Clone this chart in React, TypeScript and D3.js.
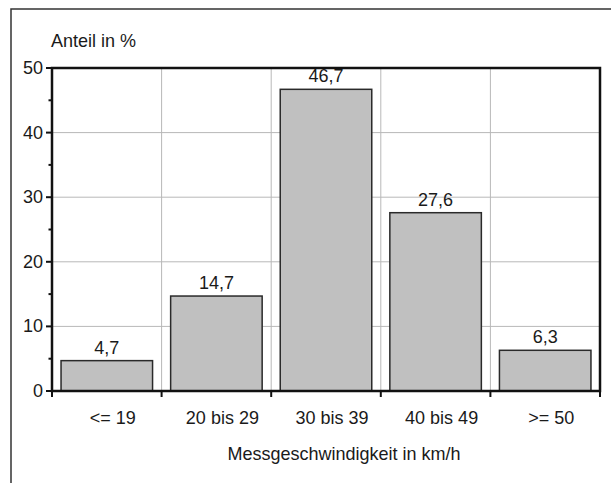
import React from "react";
import * as d3 from "d3";

const categories = ["<= 19", "20 bis 29", "30 bis 39", "40 bis 49", ">= 50"];
const values = [4.7, 14.7, 46.7, 27.6, 6.3];
const valueLabels = ["4,7", "14,7", "46,7", "27,6", "6,3"];
const yTicks = [0, 10, 20, 30, 40, 50];
const yMinorTicks = [5, 15, 25, 35, 45];
const yTitle = "Anteil in %";
const xTitle = "Messgeschwindigkeit in km/h";

const W = 611;
const H = 483;
const plot = { left: 52, right: 600, top: 68, bottom: 391 };
const FONT = "'Liberation Sans', Arial, sans-serif";
const FS = 17.5;
const SX = 1.03;
const TXT = "#1a1a1a";

function T({ x, y, anchor = "middle", children }: { x: number; y: number; anchor?: string; children: React.ReactNode }) {
  return (
    <text
      transform={`translate(${x},${y}) scale(${SX},1)`}
      textAnchor={anchor}
      fontFamily={FONT}
      fontSize={FS}
      fill={TXT}
    >
      {children}
    </text>
  );
}

export default function App() {
  const padInner = 0.165;
  const x = d3
    .scaleBand<string>()
    .domain(categories)
    .range([plot.left, plot.right])
    .paddingInner(padInner)
    .paddingOuter(padInner / 2);
  const step = x.step();
  const y = d3.scaleLinear().domain([0, 50]).range([plot.bottom, plot.top]);

  const boundaries = categories.map((c) => (x(c) as number) - (step * padInner) / 2);
  boundaries.push(plot.right);

  return (
    <svg
      width={W}
      height={H}
      style={{ position: "absolute", left: 0, top: 0, background: "#fff" }}
    >
      <rect x={0} y={0} width={W} height={H} fill="#fff" />
      {/* outer frame (cropped) */}
      <rect x={11} y={9} width={W + 20} height={H + 20} fill="none" stroke="#333" strokeWidth={1.5} />

      {/* grid */}
      {yTicks
        .filter((t) => t > 0 && t < 50)
        .map((t) => (
          <line key={"gy" + t} x1={plot.left} x2={plot.right} y1={y(t)} y2={y(t)} stroke="#b8b8b8" strokeWidth={1} />
        ))}
      {boundaries.slice(1, -1).map((bx, i) => (
        <line key={"gx" + i} x1={bx} x2={bx} y1={plot.top} y2={plot.bottom} stroke="#b8b8b8" strokeWidth={1} />
      ))}

      {/* bars */}
      {categories.map((c, i) => (
        <rect
          key={c}
          x={x(c)}
          y={y(values[i])}
          width={x.bandwidth()}
          height={y(0) - y(values[i])}
          fill="#c0c0c0"
          stroke="#2a2a2a"
          strokeWidth={1.5}
        />
      ))}

      {/* value labels */}
      {categories.map((c, i) => (
        <T key={"v" + c} x={(x(c) as number) + x.bandwidth() / 2} y={y(values[i]) - 7}>
          {valueLabels[i]}
        </T>
      ))}

      {/* frame axes */}
      <rect
        x={plot.left}
        y={plot.top}
        width={plot.right - plot.left}
        height={plot.bottom - plot.top}
        fill="none"
        stroke="#111"
        strokeWidth={2.5}
      />

      {/* y ticks */}
      {yTicks.map((t) => (
        <line key={"yt" + t} x1={plot.left - 6} x2={plot.left} y1={y(t)} y2={y(t)} stroke="#111" strokeWidth={2} />
      ))}
      {yMinorTicks.map((t) => (
        <line key={"ym" + t} x1={plot.left - 3.5} x2={plot.left} y1={y(t)} y2={y(t)} stroke="#111" strokeWidth={2} />
      ))}
      {yTicks.map((t) => (
        <T key={"yl" + t} x={plot.left - 9} y={y(t) + 6} anchor="end">
          {String(t)}
        </T>
      ))}

      {/* x ticks */}
      {boundaries.map((bx, i) => (
        <line key={"xt" + i} x1={bx} x2={bx} y1={plot.bottom} y2={plot.bottom + 6} stroke="#111" strokeWidth={2} />
      ))}
      {categories.map((c) => (
        <T key={"xl" + c} x={(x(c) as number) + x.bandwidth() / 2 + 6} y={424}>
          {c}
        </T>
      ))}

      {/* titles */}
      <T x={51} y={47} anchor="start">
        {yTitle}
      </T>
      <T x={(plot.left + plot.right) / 2 + 18} y={460}>
        {xTitle}
      </T>
    </svg>
  );
}
